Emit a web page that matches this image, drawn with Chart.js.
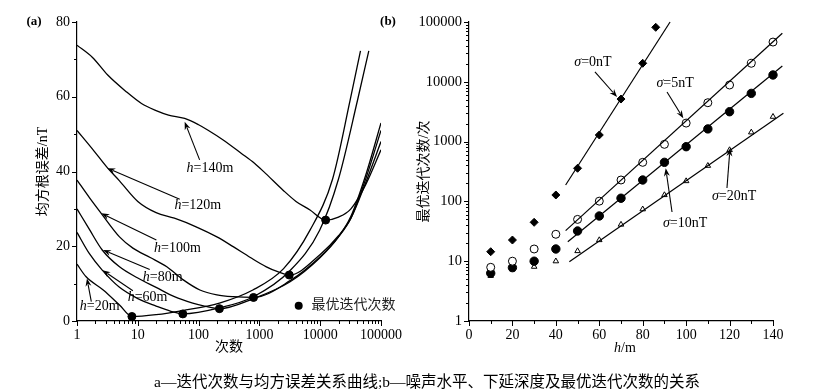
<!DOCTYPE html>
<html><head><meta charset="utf-8">
<script src="https://cdn.jsdelivr.net/npm/chart.js@4/dist/chart.umd.min.js"></script>
<style>
html,body{margin:0;padding:0;background:#fff;}
#wrap{position:relative;width:834px;height:392px;overflow:hidden;background:#fff;}
canvas{position:absolute;left:0;top:0;}
#cap{position:absolute;left:10px;width:834px;top:369px;text-align:center;font-size:15.5px;font-family:'Liberation Serif','Noto Sans CJK SC',serif;color:#000;white-space:nowrap;}
</style></head><body>
<div id="wrap">
<canvas id="ca" width="834" height="392"></canvas>
<canvas id="cb" width="834" height="392"></canvas>
<div id="cap">a—迭代次数与均方误差关系曲线;b—噪声水平、下延深度及最优迭代次数的关系</div>
</div>
<script>
// ---------- Panel (a): iterations vs RMS error ----------
const iterTicks = [1, 10, 100, 1000, 10000, 100000];
const rmsTicks = [0, 20, 40, 60, 80];

const h20X = [1, 1.4, 2.7, 5, 8, 20, 55, 220, 780, 2500, 6800, 16000, 31000, 46000];
const h20Y = [15.2, 11.9, 8.3, 4.3, 1.2, 1.7, 2.8, 4.8, 8.3, 14, 24.3, 38, 59, 72.3];

const h60X = [1, 1.6, 2.6, 5, 10, 20, 35, 55, 220, 800, 3200, 9800, 20000, 41000, 63000];
const h60Y = [23.7, 18, 13.6, 9, 6, 4, 2.6, 1.9, 3.5, 6.5, 13.5, 24.3, 38, 59, 72.3];

const h80X = [1, 1.6, 2.6, 5, 10, 20, 40, 80, 125, 220, 800, 3200, 10000, 20000, 32000, 56000, 100000];
const h80Y = [30, 24.5, 19, 14.5, 11.5, 9, 6.5, 4.8, 4, 3.3, 6, 10.5, 17, 22.5, 28, 39, 53];

const h100X = [1, 1.6, 2.5, 5, 8.3, 16, 30, 56, 105, 200, 370, 800, 3200, 10000, 20000, 32000, 56000, 100000];
const h100Y = [37.7, 33, 28.8, 22.5, 19.5, 17, 14.5, 11, 8.3, 7, 6.5, 6.3, 10.8, 17.2, 22.5, 27.5, 38, 51];

const h120X = [1, 1.8, 3.2, 5, 10, 20, 40, 91, 200, 370, 710, 1300, 2000, 3100, 10000, 20000, 32000, 56000, 100000];
const h120Y = [51, 46, 40.9, 37.5, 32, 29, 27.5, 25.2, 22.5, 19.9, 17, 14.5, 13.2, 12.3, 17.8, 22.8, 27.5, 37, 48];

const h140X = [1, 1.8, 3.2, 6.3, 11.5, 20, 32, 59, 100, 141, 250, 500, 830, 1260, 2450, 4000, 6800, 12300, 20000, 32000, 56000, 100000];
const h140Y = [73.8, 70.5, 65.8, 61.5, 58.2, 56.3, 55.1, 54.2, 52.5, 51.1, 48.5, 44.9, 42.2, 39.5, 35, 32, 29.7, 27, 27.8, 30, 36.5, 45.8];

const optX = [8, 55, 220, 800, 3100, 12300];
const optY = [1.2, 1.9, 3.3, 6.3, 12.3, 27];

// ---------- Panel (b): depth vs optimal iterations ----------
const depthTicks = [0, 20, 40, 60, 80, 100, 120, 140];
const countTicks = [1, 10, 100, 1000, 10000, 100000];
const depths = [10, 20, 30, 40, 50, 60, 70, 80, 90, 100, 110, 120, 130, 140];
const sigma0X = [10, 20, 30, 40, 50, 60, 70, 80, 86];
const sigma0Y = [14.4, 22.6, 44.7, 128, 358, 1290, 5150, 20400, 81500];
const sigma5Y = [7.9, 10, 16, 28.2, 50, 101, 228, 450, 900, 2040, 4470, 8840, 20400, 46200];
const sigma10Y = [6.3, 7.8, 10, 16, 32, 57, 113, 228, 450, 822, 1630, 3160, 6400, 13000];
const sigma20Y = [5.7, 7.3, 8.1, 10, 14.8, 22.6, 41, 74, 128, 219, 395, 724, 1430, 2610];
const fit0X = [44.5, 92.6], fit0Y = [188, 100000];
const fit5X = [44.5, 144.3], fit5Y = [32.4, 65000];
const fit10X = [45.5, 144.3], fit10Y = [21.2, 18400];
const fit20X = [46.2, 144.8], fit20Y = [9.8, 2970];

// ---------- helpers ----------
const FAM = "'Liberation Serif','Noto Sans CJK SC',serif";
const pts = (xs, ys) => xs.map((x, i) => ({x, y: ys[i]}));
const logMinor = (majors) => { const r = []; majors.slice(0, -1).forEach(m => { for (let k = 2; k <= 9; k++) r.push(m * k); }); return r; };
const linMinor = (majors) => majors.slice(0, -1).map((m, i) => (m + majors[i + 1]) / 2);

function richText(ctx, parts, cx, cy, size) {
  let w = 0;
  const fonts = parts.map(p => (p[1] ? 'italic ' : '') + size + 'px ' + FAM);
  parts.forEach((p, i) => { ctx.font = fonts[i]; w += ctx.measureText(p[0]).width; });
  let x = cx - w / 2;
  ctx.textBaseline = 'middle'; ctx.textAlign = 'left';
  parts.forEach((p, i) => { ctx.font = fonts[i]; ctx.fillText(p[0], x, cy); x += ctx.measureText(p[0]).width; });
}
function arrow(ctx, x1, y1, x2, y2) {
  const a = Math.atan2(y2 - y1, x2 - x1), L = 8, W = 3;
  const bx = x2 - L * Math.cos(a), by = y2 - L * Math.sin(a);
  ctx.beginPath(); ctx.moveTo(x1, y1); ctx.lineTo(bx + 2 * Math.cos(a), by + 2 * Math.sin(a)); ctx.stroke();
  ctx.beginPath(); ctx.moveTo(x2, y2);
  ctx.lineTo(bx + W * Math.sin(a), by - W * Math.cos(a));
  ctx.lineTo(bx + 2.5 * Math.cos(a), by + 2.5 * Math.sin(a));
  ctx.lineTo(bx - W * Math.sin(a), by + W * Math.cos(a));
  ctx.closePath(); ctx.fill();
}
function tickPlugin(xMaj, xMin, yMaj, yMin) {
  return { id: 'ticks', afterDraw(chart) {
    const ctx = chart.ctx, xs = chart.scales.x, ys = chart.scales.y, ca = chart.chartArea;
    ctx.save(); ctx.strokeStyle = '#000'; ctx.lineWidth = 1;
    const seg = (a, b, c, d) => { ctx.beginPath(); ctx.moveTo(a, b); ctx.lineTo(c, d); ctx.stroke(); };
    xMaj.forEach(v => { const p = Math.round(xs.getPixelForValue(v)) + 0.5; seg(p, ca.bottom, p, ca.bottom + 5); });
    xMin.forEach(v => { const p = Math.round(xs.getPixelForValue(v)) + 0.5; seg(p, ca.bottom, p, ca.bottom + 3); });
    yMaj.forEach(v => { const p = Math.round(ys.getPixelForValue(v)) + 0.5; seg(ca.left, p, ca.left - 5, p); });
    yMin.forEach(v => { const p = Math.round(ys.getPixelForValue(v)) + 0.5; seg(ca.left, p, ca.left - 3, p); });
    ctx.restore();
  }};
}
function annPlugin(id, items, extra) {
  return { id, afterDatasetsDraw(chart) {
    const ctx = chart.ctx, xs = chart.scales.x, ys = chart.scales.y;
    const P = (v) => [xs.getPixelForValue(v[0]), ys.getPixelForValue(v[1])];
    ctx.save(); ctx.fillStyle = '#000'; ctx.strokeStyle = '#000'; ctx.lineWidth = 1.1;
    items.forEach(it => {
      const f = P(it.from), t = P(it.tip), c = P(it.at);
      arrow(ctx, f[0], f[1], t[0], t[1]);
      richText(ctx, it.text, c[0], c[1], 14);
    });
    if (extra) extra(chart, ctx, P);
    ctx.restore();
  }};
}
const lineDs = (xs, ys) => ({ data: pts(xs, ys), showLine: true, borderColor: '#000', borderWidth: 1.3,
  pointRadius: 0, cubicInterpolationMode: 'monotone', fill: false });
const tickFont = { family: FAM, size: 14 };

// ---------- Chart (a) ----------
const annA = [
  { text: [['h', 1], ['=140m', 0]], at: [154, 40.9], from: [104, 43.1], tip: [59, 53.3] },
  { text: [['h', 1], ['=120m', 0]], at: [97, 31.0], from: [49, 32.6], tip: [3.16, 40.9] },
  { text: [['h', 1], ['=100m', 0]], at: [45, 19.5], from: [20.2, 21.7], tip: [2.52, 28.8] },
  { text: [['h', 1], ['=80m', 0]], at: [25.7, 11.8], from: [15.7, 13.8], tip: [2.68, 19.0] },
  { text: [['h', 1], ['=60m', 0]], at: [14.5, 6.4], from: [8.3, 8.1], tip: [2.62, 13.6] },
  { text: [['h', 1], ['=20m', 0]], at: [2.36, 4.0], from: [1.72, 5.2], tip: [1.46, 11.4] }
];
new Chart(document.getElementById('ca'), {
  type: 'scatter',
  data: { datasets: [
    lineDs(h20X, h20Y), lineDs(h60X, h60Y), lineDs(h80X, h80Y), lineDs(h100X, h100Y),
    lineDs(h120X, h120Y), lineDs(h140X, h140Y),
    { data: pts(optX, optY), pointRadius: 4, pointBackgroundColor: '#000', pointBorderColor: '#000', showLine: false, clip: false }
  ]},
  options: {
    responsive: false, animation: false, devicePixelRatio: 1,
    layout: { padding: { left: 0, right: 453, top: 22, bottom: 0 } },
    plugins: { legend: { display: false }, tooltip: { enabled: false } },
    scales: {
      x: { type: 'logarithmic', min: 1, max: 100000,
        afterFit: s => { s.height = 71; },
        afterBuildTicks: s => { s.ticks = iterTicks.map(v => ({ value: v })); },
        grid: { display: false, drawTicks: false }, border: { display: true, color: '#000', width: 1.2 },
        ticks: { autoSkip: false, maxRotation: 0, padding: 6, color: '#000', font: tickFont, callback: v => String(v) },
        title: { display: true, text: '次数', color: '#000', font: { family: FAM, size: 14 }, padding: { top: 0, bottom: 36 } } },
      y: { type: 'linear', min: 0, max: 80,
        afterFit: s => { s.width = 77; },
        afterBuildTicks: s => { s.ticks = rmsTicks.map(v => ({ value: v })); },
        grid: { display: false, drawTicks: false }, border: { display: true, color: '#000', width: 1.2 },
        ticks: { autoSkip: false, padding: 7, color: '#000', font: tickFont },
        title: { display: true, text: '均方根误差/nT', color: '#000', font: { family: FAM, size: 14 }, padding: { top: 35, bottom: 0 } } }
    }
  },
  plugins: [
    tickPlugin(iterTicks, logMinor(iterTicks), rmsTicks, linMinor(rmsTicks)),
    annPlugin('annA', annA, (chart, ctx, P) => {
      const d = P([4430, 4.1]);
      ctx.beginPath(); ctx.arc(d[0], d[1], 4, 0, Math.PI * 2); ctx.fill();
      const t = P([7160, 4.1]);
      ctx.font = '14px ' + FAM; ctx.textAlign = 'left'; ctx.textBaseline = 'middle'; ctx.fillStyle = '#222';
      ctx.fillText('最优迭代次数', t[0], t[1]);
      ctx.fillStyle = '#000'; ctx.font = 'bold 13px ' + FAM; ctx.textAlign = 'center';
      ctx.fillText('(a)', 34, 22); ctx.fillText('(b)', 388, 22);
    })
  ]
});

// ---------- Chart (b) ----------
const annB = [
  { text: [['σ', 1], ['=0nT', 0]], at: [57.1, 21400], from: [58.0, 14600], tip: [68.2, 5570] },
  { text: [['σ', 1], ['=5nT', 0]], at: [94.9, 9550], from: [91.2, 6750], tip: [98.7, 2450] },
  { text: [['σ', 1], ['=10nT', 0]], at: [99.5, 43.5], from: [93.5, 66.5], tip: [90.6, 357] },
  { text: [['σ', 1], ['=20nT', 0]], at: [122.1, 123], from: [118.8, 167], tip: [120.2, 773] }
];
const fitDs = (xs, ys) => ({ data: pts(xs, ys), showLine: true, borderColor: '#000', borderWidth: 1.2, pointRadius: 0, clip: false });
new Chart(document.getElementById('cb'), {
  type: 'scatter',
  data: { datasets: [
    fitDs(fit0X, fit0Y), fitDs(fit5X, fit5Y), fitDs(fit10X, fit10Y), fitDs(fit20X, fit20Y),
    { data: pts(sigma0X, sigma0Y), pointStyle: 'rectRot', pointRadius: 4, pointBackgroundColor: '#000', pointBorderColor: '#000', clip: false },
    { data: pts(depths, sigma5Y), pointStyle: 'circle', pointRadius: 4, pointBackgroundColor: '#fff', pointBorderColor: '#000', pointBorderWidth: 1, clip: false },
    { data: pts(depths, sigma10Y), pointStyle: 'circle', pointRadius: 4.2, pointBackgroundColor: '#000', pointBorderColor: '#000', clip: false },
    { data: pts(depths, sigma20Y), pointStyle: 'triangle', pointRadius: 3.2, pointBackgroundColor: '#fff', pointBorderColor: '#000', pointBorderWidth: 1, clip: false }
  ]},
  options: {
    responsive: false, animation: false, devicePixelRatio: 1,
    layout: { padding: { left: 400, right: 61, top: 22, bottom: 0 } },
    plugins: { legend: { display: false }, tooltip: { enabled: false } },
    scales: {
      x: { type: 'linear', min: 0, max: 140,
        afterFit: s => { s.height = 71; },
        afterBuildTicks: s => { s.ticks = depthTicks.map(v => ({ value: v })); },
        grid: { display: false, drawTicks: false }, border: { display: true, color: '#000', width: 1.2 },
        ticks: { autoSkip: false, maxRotation: 0, padding: 6, color: '#000', font: tickFont } },
      y: { type: 'logarithmic', min: 1, max: 100000,
        afterFit: s => { s.width = 69; },
        afterBuildTicks: s => { s.ticks = countTicks.map(v => ({ value: v })); },
        grid: { display: false, drawTicks: false }, border: { display: true, color: '#000', width: 1.2 },
        ticks: { autoSkip: false, padding: 7, color: '#000', font: { family: FAM, size: 14.5 }, callback: v => String(v) },
        title: { display: true, text: '最优迭代次数/次', color: '#000', font: { family: FAM, size: 14 }, padding: { top: 16, bottom: 0 } } }
    }
  },
  plugins: [
    tickPlugin(depthTicks, linMinor(depthTicks), countTicks, logMinor(countTicks)),
    annPlugin('annB', annB, (chart, ctx) => {
      const ca = chart.chartArea;
      richText(ctx, [['h', 1], ['/m', 0]], (ca.left + ca.right) / 2 + 4, 348, 14);
    })
  ]
});
</script>
</body></html>
